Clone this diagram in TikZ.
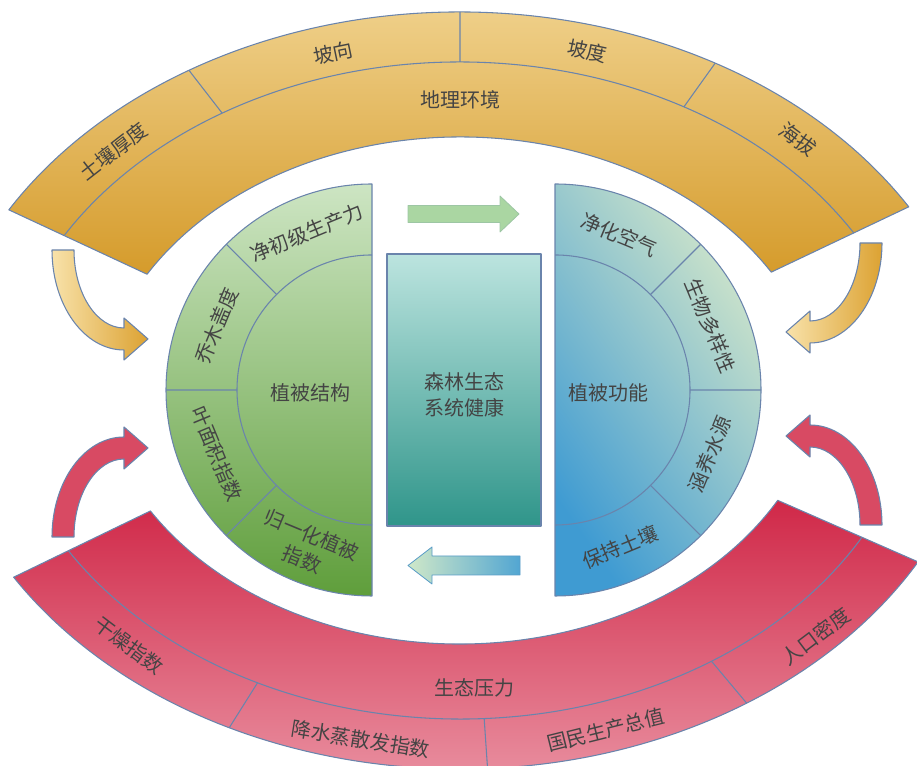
\documentclass[tikz,border=0pt]{standalone}
\usepackage{fontspec}
\newfontfamily\cjkfont{Noto Sans CJK SC}
\definecolor{edge}{HTML}{6A84AC}
\definecolor{txt}{HTML}{444444}
\definecolor{ytop}{HTML}{F4DA9C}
\definecolor{ymid}{HTML}{E7B54A}
\definecolor{ybot}{HTML}{D59B2B}
\definecolor{rtop}{HTML}{D02848}
\definecolor{rmid}{HTML}{D9506A}
\definecolor{rbot}{HTML}{EDA0AE}
\definecolor{gtop}{HTML}{CDE5C3}
\definecolor{gmid}{HTML}{74B652}
\definecolor{gbot}{HTML}{5F9E3B}
\definecolor{blight}{HTML}{D2E6CA}
\definecolor{bmid}{HTML}{8FC4D2}
\definecolor{bdark}{HTML}{3F9BD2}
\definecolor{ttop}{HTML}{BCE4DF}
\definecolor{tmid}{HTML}{2BB6A6}
\definecolor{tbot}{HTML}{2F958A}
\definecolor{arrg}{HTML}{AAD6A2}
\definecolor{arrbl}{HTML}{D0E8C8}
\definecolor{arrbd}{HTML}{52A6D2}
\definecolor{yalight}{HTML}{F8E2AA}
\definecolor{yadark}{HTML}{DCA232}
\definecolor{redarr}{HTML}{D84A63}
\tikzset{
  lbl/.style={font=\cjkfont\fontsize{15}{19.5}\selectfont, text=txt, inner sep=0pt, align=center},
  edgeline/.style={draw=edge, line width=0.8pt},
  yarr/.style={draw=edge, line width=0.8pt, left color=yalight, right color=yadark},
  rarr/.style={draw=edge, line width=0.8pt, fill=redarr},
}
\newcommand\curvedarr[1]{\path[#1] (-72,0) arc[start angle=180, end angle=270, x radius=72, y radius=100] -- (0,-110) -- (24,-89) -- (0,-68) -- (0,-78) arc[start angle=270, end angle=180, x radius=50, y radius=78] -- cycle;}
\begin{document}
\begin{tikzpicture}[x=0.75pt,y=0.75pt,line join=round]
\useasboundingbox (0,0) rectangle (917,766);
\clip (0,0) rectangle (917,766);

% ---------- top band ----------
\begin{scope}[shift={(460,346)}, xscale=1.29]
  \path[edgeline, top color=ytop, middle color=ymid, bottom color=ybot]
    (31.5:408) arc[start angle=31.5, end angle=149, radius=408] -- (149:283)
    arc[start angle=149, end angle=31.5, radius=283] -- cycle;
  \draw[edgeline] (31.5:358) arc[start angle=31.5, end angle=149, radius=358];
  \draw[edgeline] (61:358) -- (61:408) (90:358) -- (90:408) (121:358) -- (121:408);
  \node[lbl] (geo) at (90:320) {地理环境};
  \node[lbl, rotate=37.8] (soil) at (135:380) {土壤厚度};
  \node[lbl, rotate=11.7] (aspect) at (105:380) {坡向};
  \node[lbl, rotate=-11.7] (slope) at (75:382) {坡度};
  \node[lbl, rotate=-36] (alt) at (47:384) {海拔};
\end{scope}

% ---------- bottom band ----------
\begin{scope}[shift={(460,405)}, xscale=1.29]
  \path[edgeline, top color=rtop, middle color=rmid, bottom color=rbot]
    (212:408) arc[start angle=212, end angle=330.5, radius=408] -- (330.5:283)
    arc[start angle=330.5, end angle=212, radius=283] -- cycle;
  \draw[edgeline] (212:358) arc[start angle=212, end angle=330.5, radius=358];
  \draw[edgeline] (244:358) -- (244:408) (273:358) -- (273:408) (303:358) -- (303:408);
  \node[lbl] (stress) at (272:327) {生态压力};
  \node[lbl, rotate=-37] (dry) at (228:383) {干燥指数};
  \node[lbl, rotate=-9] (evap) at (258.5:386) {降水蒸散发指数};
  \node[lbl, rotate=14] (gdp) at (287:386) {国民生产总值};
  \node[lbl, rotate=37] (pop) at (315:390) {人口密度};
\end{scope}

% ---------- curved arrows ----------
\begin{scope}[shift={(124,516)}] \curvedarr{yarr} \end{scope}
\begin{scope}[shift={(810,523)}, xscale=-1] \curvedarr{yarr} \end{scope}
\begin{scope}[shift={(124,229)}, yscale=-1] \curvedarr{rarr} \end{scope}
\begin{scope}[shift={(810,241)}, xscale=-1, yscale=-1] \curvedarr{rarr} \end{scope}

% ---------- green half disk ----------
\begin{scope}[shift={(372,376)}]
  \path[edgeline, top color=gtop, middle color=gmid, bottom color=gbot]
    (0,206) arc[start angle=90, end angle=270, radius=206] -- cycle;
  \draw[edgeline] (0,135) arc[start angle=90, end angle=270, radius=135];
  \draw[edgeline] (135:135) -- (135:206) (180:135) -- (180:206) (225:135) -- (225:206);
  \node[lbl] (struct) at (-62,-3) {植被结构};
  \node[lbl, rotate=22.5] (npp) at (112.5:170) {净初级生产力};
  \node[lbl, rotate=67.5] (tree) at (157.5:168) {乔木盖度};
  \node[lbl, rotate=-67.5] (lai) at (202.5:168) {叶面积指数};
  \node[lbl, rotate=-22.5] (ndvi) at (247.5:170) {归一化植被\\指数};
\end{scope}

% ---------- blue half disk ----------
\begin{scope}[shift={(555,376)}]
  \path[edgeline, top color=blight, middle color=bmid, bottom color=bdark, shading angle=-55]
    (0,206) arc[start angle=90, end angle=-90, radius=206] -- cycle;
  \draw[edgeline] (0,135) arc[start angle=90, end angle=-90, radius=135];
  \draw[edgeline] (45:135) -- (45:206) (0:135) -- (0:206) (-45:135) -- (-45:206);
  \node[lbl] (func) at (53,-3) {植被功能};
  \node[lbl, rotate=-22.5] (air) at (67.5:168) {净化空气};
  \node[lbl, rotate=-67.5] (bio) at (22.5:168) {生物多样性};
  \node[lbl, rotate=67.5] (water) at (-22.5:168) {涵养水源};
  \node[lbl, rotate=22.5] (keep) at (-67.5:170) {保持土壤};
\end{scope}

% ---------- centre box ----------
\path[edgeline, top color=ttop, middle color=tmid, bottom color=tbot] (387,240) rectangle (541,512);
\node[lbl] (health) at (464,371) {森林生态\\系统健康};

% ---------- straight arrows ----------
\path[draw=arrg!80!edge, line width=0.6pt, fill=arrg]
  (408,543.5) -- (500,543.5) -- (500,534) -- (519,552) -- (500,570) -- (500,560.5) -- (408,560.5) -- cycle;
\path[draw=arrbd!70!edge, line width=0.6pt, left color=arrbl, right color=arrbd]
  (520,191) -- (432,191) -- (432,182) -- (408,200.5) -- (432,219) -- (432,210) -- (520,210) -- cycle;
\end{tikzpicture}
\end{document}
